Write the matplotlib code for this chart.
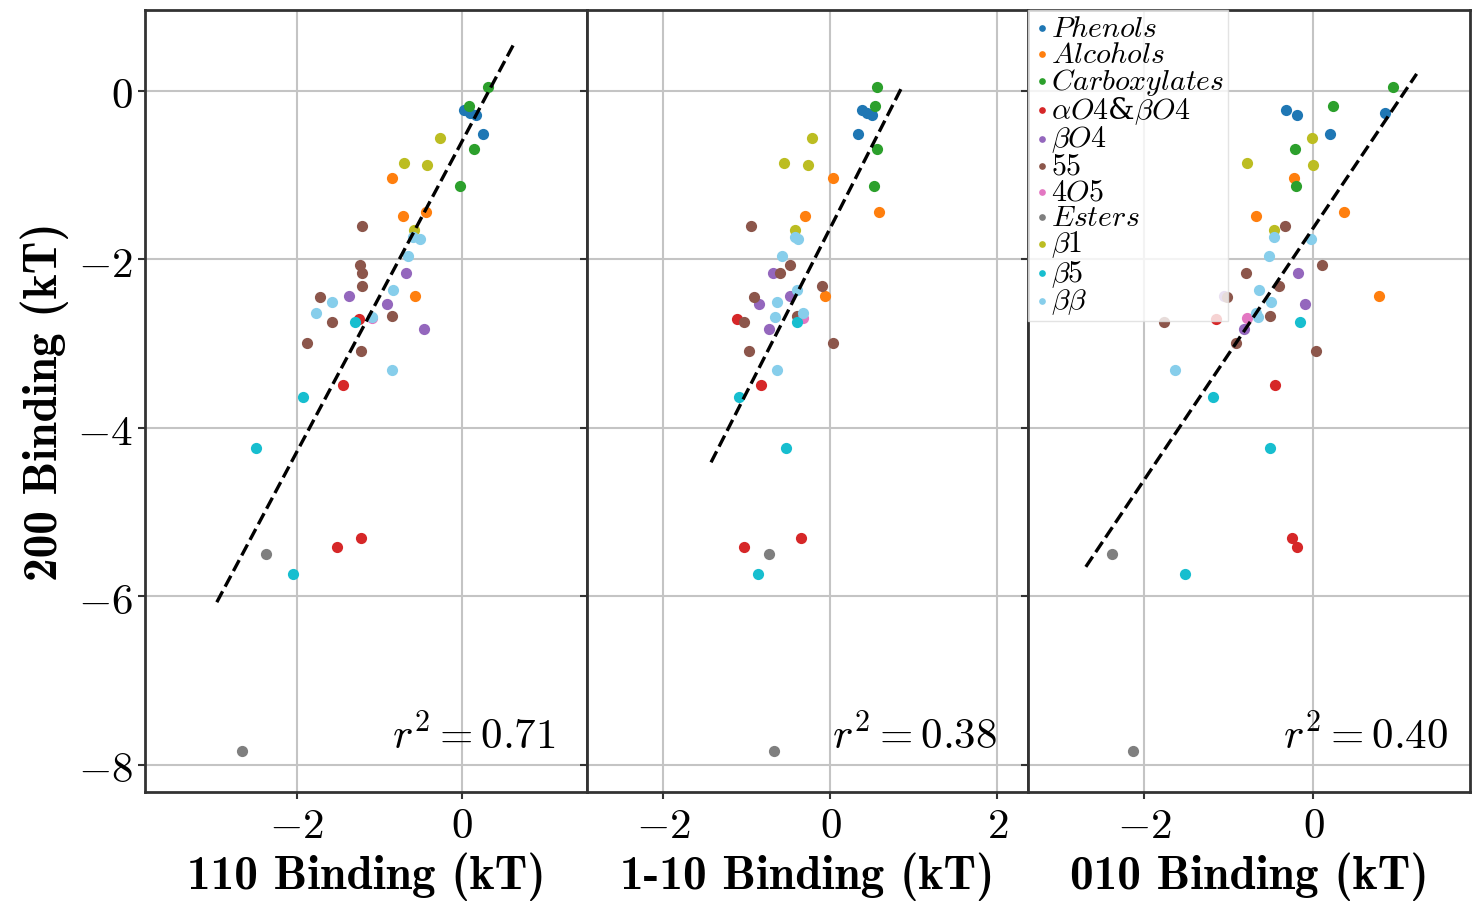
import numpy as np
import matplotlib
matplotlib.use('Agg')
import matplotlib.pyplot as plt
from matplotlib.ticker import MultipleLocator, FuncFormatter

plt.rcParams['mathtext.fontset'] = 'cm'
plt.rcParams['font.family'] = 'serif'

# category names (legend labels) and colours
categories = [r'$Phenols$', r'$Alcohols$', r'$Carboxylates$', r'$\alpha O4$&$\beta O4$',
              r'$\beta O4$', r'$55$', r'$4O5$', r'$Esters$', r'$\beta 1$', r'$\beta 5$',
              r'$\beta\beta$']
colors = ['#1f77b4', '#ff7f0e', '#2ca02c', '#d62728', '#9467bd', '#8c564b',
          '#e377c2', '#7f7f7f', '#bcbd22', '#17becf', '#87ceeb']

# 200 binding (kT), shared y values
y200 = [
    [-0.23, -0.26, -0.29, -0.51],
    [-1.03, -1.49, -1.44, -2.44],
    [0.05, -0.18, -0.69, -1.13],
    [-2.71, -3.49, -5.31, -5.42],
    [-2.44, -2.16, -2.53, -2.83],
    [-1.61, -2.07, -2.16, -2.32, -2.45, -2.75, -2.67, -2.99, -3.09],
    [-2.70],
    [-5.50, -7.84],
    [-0.56, -0.86, -0.88, -1.65],
    [-2.74, -3.64, -4.24, -5.73],
    [-1.96, -1.73, -1.76, -2.36, -2.51, -2.64, -2.68, -3.31],
]

# 110 binding (kT)
x110 = [
    [0.02, 0.10, 0.17, 0.26],
    [-0.85, -0.72, -0.44, -0.57],
    [0.31, 0.08, 0.14, -0.03],
    [-1.25, -1.44, -1.22, -1.52],
    [-1.37, -0.68, -0.91, -0.46],
    [-1.21, -1.23, -1.21, -1.21, -1.72, -1.57, -0.85, -1.88, -1.22],
    [-1.09],
    [-2.38, -2.67],
    [-0.27, -0.70, -0.42, -0.58],
    [-1.30, -1.92, -2.50, -2.05],
    [-0.66, -0.59, -0.51, -0.83, -1.58, -1.77, -1.09, -0.85],
]

# 1-10 binding (kT)
x1m10 = [
    [0.38, 0.44, 0.50, 0.33],
    [0.03, -0.31, 0.58, -0.06],
    [0.56, 0.53, 0.56, 0.52],
    [-1.12, -0.83, -0.35, -1.04],
    [-0.49, -0.69, -0.85, -0.73],
    [-0.95, -0.49, -0.60, -0.10, -0.91, -1.03, -0.40, 0.03, -0.98],
    [-0.33],
    [-0.73, -0.68],
    [-0.22, -0.56, -0.27, -0.43],
    [-0.40, -1.09, -0.53, -0.87],
    [-0.58, -0.43, -0.39, -0.40, -0.64, -0.33, -0.66, -0.64],
]

# 010 binding (kT)
x010 = [
    [-0.32, 0.85, -0.19, 0.20],
    [-0.23, -0.68, 0.36, 0.78],
    [0.94, 0.23, -0.22, -0.20],
    [-1.15, -0.45, -0.25, -0.19],
    [-1.06, -0.18, -0.10, -0.82],
    [-0.34, 0.10, -0.80, -0.41, -1.02, -1.77, -0.51, -0.92, 0.03],
    [-0.78],
    [-2.38, -2.13],
    [-0.02, -0.79, 0.00, -0.46],
    [-0.16, -1.19, -0.51, -1.52],
    [-0.52, -0.46, -0.03, -0.64, -0.50, -0.68, -0.66, -1.64],
]

# fitted lines (endpoints) and r^2 values
fit_x = [[-2.97, 0.62], [-1.43, 0.87], [-2.69, 1.22]]
fit_y = [[-6.07, 0.54], [-4.41, 0.07], [-5.65, 0.20]]
r2_values = [0.71, 0.38, 0.40]
xlabels = ['110 Binding (kT)', '1-10 Binding (kT)', '010 Binding (kT)']
ylabel = '200 Binding (kT)'
xlims = [(-3.84, 1.51), (-2.92, 2.37), (-3.37, 1.85)]
r2_xpos = [0.93, 0.93, 0.95]

fig, axes = plt.subplots(1, 3, figsize=(14.72, 9.04), dpi=100, sharey=True)
fig.subplots_adjust(left=0.0985, right=0.9986, top=0.988, bottom=0.123, wspace=0)

tick_fmt = FuncFormatter(lambda v, pos: r'$%d$' % round(v))

for i, (ax, xdata) in enumerate(zip(axes, [x110, x1m10, x010])):
    for cat, col, xs, ys in zip(categories, colors, xdata, y200):
        ax.scatter(xs, ys, s=65, color=col, label=cat, zorder=3, linewidths=0)

    ax.plot(fit_x[i], fit_y[i], '--', color='black', lw=2.4, zorder=4)

    ax.text(r2_xpos[i], 0.045, r'$r^2 = %.2f$' % r2_values[i], transform=ax.transAxes,
            ha='right', va='bottom', fontsize=31)

    ax.set_xlim(*xlims[i])
    ax.set_ylim(-8.32, 0.96)
    ax.xaxis.set_major_locator(MultipleLocator(2))
    ax.yaxis.set_major_locator(MultipleLocator(2))
    ax.xaxis.set_major_formatter(tick_fmt)
    ax.yaxis.set_major_formatter(tick_fmt)
    ax.tick_params(labelsize=31, length=5, width=1.5, color='#333333')
    ax.set_xlabel(xlabels[i], fontsize=34, family='cmb10', labelpad=4)
    ax.grid(True, color='#c4c4c4', lw=1.5, zorder=0)
    for sp in ax.spines.values():
        sp.set_color('#333333')
        sp.set_linewidth(2)

axes[0].set_ylabel(ylabel, fontsize=34, family='cmb10', labelpad=6)

axes[2].legend(loc='upper left', bbox_to_anchor=(0, 1), borderaxespad=0, fontsize=21.5,
               labelspacing=-0.08, handletextpad=0.0, handlelength=0.6, borderpad=0.15,
               markerscale=0.6, framealpha=0.8, edgecolor='#dddddd', fancybox=False)

plt.savefig('out.png', dpi=100)
